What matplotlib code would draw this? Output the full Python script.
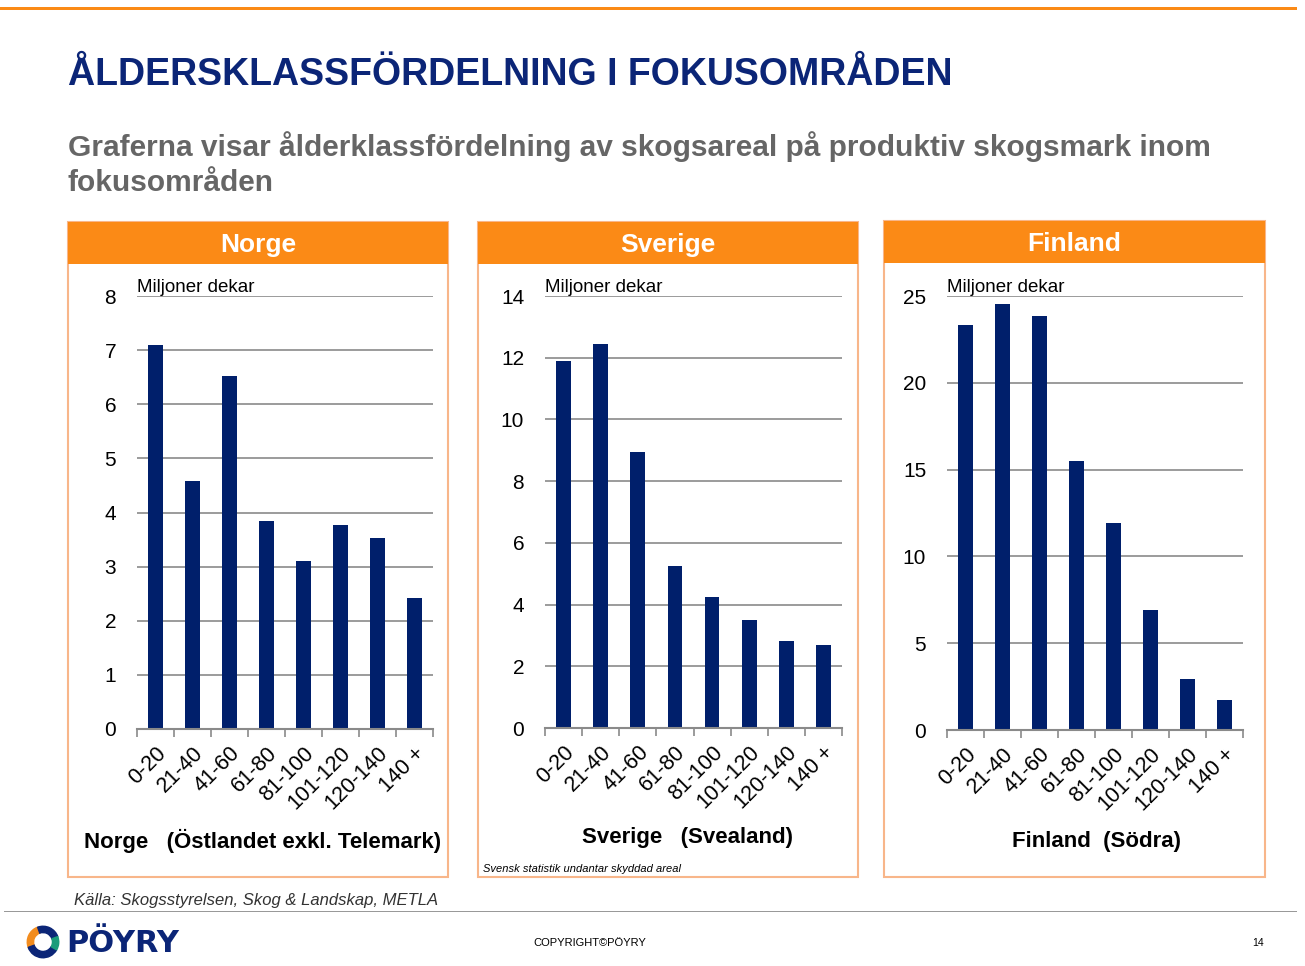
import matplotlib
matplotlib.use("Agg")
import matplotlib.pyplot as plt
from matplotlib.patches import Rectangle, Wedge
import numpy as np

plt.rcParams['font.family'] = ['Liberation Sans', 'DejaVu Sans']

categories = ["0-20", "21-40", "41-60", "61-80", "81-100", "101-120", "120-140", "140 +"]
norge_values = [7.10, 4.58, 6.52, 3.84, 3.10, 3.77, 3.53, 2.42]
sverige_values = [11.89, 12.44, 8.94, 5.25, 4.24, 3.50, 2.82, 2.69]
finland_values = [23.33, 24.54, 23.85, 15.50, 11.92, 6.91, 2.94, 1.73]

panel_titles = ["Norge", "Sverige", "Finland"]
panel_captions = ["Norge   (Östlandet exkl. Telemark)", "Sverige   (Svealand)", "Finland  (Södra)"]
y_max = [8, 14, 25]
y_step = [1, 2, 5]
unit_label = "Miljoner dekar"

W, H = 1305, 966
fig = plt.figure(figsize=(W / 100, H / 100), dpi=100)

def fx(x):
    return x / W

def fy(y):
    return 1 - y / H

ORANGE = '#FB8A16'
NAVY = '#0B2577'
BAR = '#001F6B'
BORDER = '#F8B68A'

# top orange line
fig.add_artist(Rectangle((fx(0), fy(10)), fx(1297), 3 / H, transform=fig.transFigure,
                         facecolor=ORANGE, edgecolor='none'))

fig.text(fx(68), fy(75), "ÅLDERSKLASSFÖRDELNING I FOKUSOMRÅDEN", fontsize=27, fontweight='bold',
         color=NAVY, ha='left', va='center')
fig.text(fx(68), fy(164), "Graferna visar ålderklassfördelning av skogsareal på produktiv skogsmark inom\nfokusområden",
         fontsize=21.5, fontweight='bold', color='#666666', ha='left', va='center', linespacing=1.3)

panels = [
    dict(box=(68, 222, 448, 877), ax=(137, 296, 433, 729), vals=norge_values),
    dict(box=(478, 222, 858, 877), ax=(545, 296, 842, 728), vals=sverige_values),
    dict(box=(884, 221, 1265, 877), ax=(947, 296, 1243, 730), vals=finland_values),
]
caption_pos = [(84, 841, 'left'), (688, 838, 'center'), (1096, 841, 'center')]

for i, p in enumerate(panels):
    x0, y0, x1, y1 = p['box']
    fig.add_artist(Rectangle((fx(x0), fy(y1)), fx(x1 - x0), (y1 - y0) / H, transform=fig.transFigure,
                             facecolor='none', edgecolor=BORDER, lw=1.5))
    fig.add_artist(Rectangle((fx(x0), fy(y0 + 42)), fx(x1 - x0), 42 / H, transform=fig.transFigure,
                             facecolor=ORANGE, edgecolor='none'))
    fig.text(fx((x0 + x1) / 2), fy(y0 + 23), panel_titles[i], fontsize=19, fontweight='bold',
             color='white', ha='center', va='center')
    ax0, ay0, ax1, ay1 = p['ax']
    ax = fig.add_axes([fx(ax0), fy(ay1), fx(ax1 - ax0), (ay1 - ay0) / H])
    xs = np.arange(len(categories))
    ax.bar(xs, p['vals'], width=0.4, color=BAR, zorder=3)
    ax.set_xlim(-0.5, len(categories) - 0.5)
    ax.set_ylim(0, y_max[i])
    ax.set_yticks(np.arange(0, y_max[i] + 0.01, y_step[i]))
    ax.yaxis.grid(True, color='#8A8A8A', lw=1.2, zorder=0)
    ax.tick_params(axis='y', length=0, pad=15, labelsize=15)
    for s in ['left', 'right', 'top']:
        ax.spines[s].set_visible(False)
    ax.spines['bottom'].set_color('#8A8A8A')
    ax.spines['bottom'].set_linewidth(1.5)
    ax.spines['bottom'].set_zorder(4)
    ax.set_xticks(np.arange(-0.5, len(categories), 1.0), minor=False)
    ax.set_xticklabels([])
    ax.tick_params(axis='x', which='major', length=6, color='#8A8A8A', width=1.2, direction='out')
    ax.set_xticks(xs, minor=True)
    ax.set_xticklabels(categories, minor=True, rotation=45, ha='right', va='top',
                       rotation_mode='anchor', fontsize=15.5)
    ax.tick_params(axis='x', which='minor', length=0, pad=10)
    ax.text(0, 1.0, unit_label, transform=ax.transAxes, fontsize=13.5, ha='left', va='bottom')
    cx, cy, cha = caption_pos[i]
    fig.text(fx(cx), fy(cy), panel_captions[i], fontsize=16, fontweight='bold', ha=cha, va='center')

fig.text(fx(483), fy(869), "Svensk statistik undantar skyddad areal", fontsize=8, style='italic', ha='left', va='center')
fig.text(fx(74), fy(900), "Källa: Skogsstyrelsen, Skog & Landskap, METLA", fontsize=12, style='italic',
         color='#333333', ha='left', va='center')

fig.add_artist(Rectangle((fx(4), fy(912)), fx(1293), 1.5 / H, transform=fig.transFigure,
                         facecolor='#999999', edgecolor='none'))

# logo
lax = fig.add_axes([fx(22), fy(963), fx(42), 42 / H])
lax.set_xlim(-1, 1); lax.set_ylim(-1, 1); lax.axis('off'); lax.set_aspect('equal')
lax.add_patch(Wedge((0, 0), 0.75, 110, 200, width=0.3, color='#F28C1E'))
lax.add_patch(Wedge((0, 0), 0.75, 200, 330, width=0.3, color=NAVY))
lax.add_patch(Wedge((0, 0), 0.75, 20, 110, width=0.3, color=NAVY))
lax.add_patch(Wedge((0, 0), 0.75, 330, 20, width=0.3, color='#1A9C7A'))
fig.text(fx(66), fy(944), "PÖYRY", fontsize=22, fontweight='bold', color=NAVY, ha='left', va='center',
         family=['DejaVu Sans'])

fig.text(fx(590), fy(943), "COPYRIGHT©PÖYRY", fontsize=8, ha='center', va='center')
fig.text(fx(1258), fy(943), "14", fontsize=7.5, ha='center', va='center')

fig.savefig("out.png", dpi=100)
